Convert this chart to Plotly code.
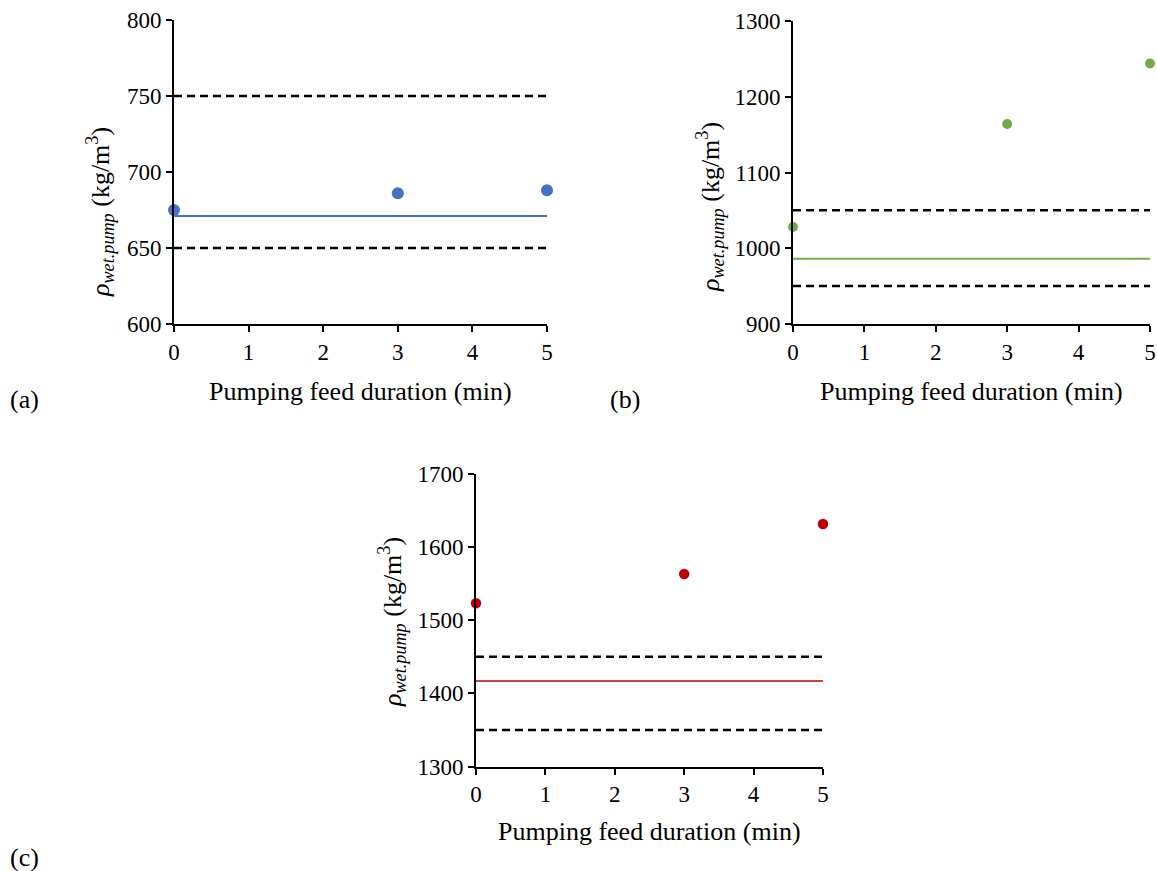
import plotly.graph_objects as go

W, H = 1157, 871

# Measured wet density in the pump at each sampling time
duration = [0, 3, 5]
rho_a = [675, 686, 688]
rho_b = [1028, 1164, 1244]
rho_c = [1523, 1563, 1631]

# Design density (solid line) and tolerance band (dashed lines)
span = [0, 5]
design_a, band_a = 671, [650, 750]
design_b, band_b = 986, [950, 1050]
design_c, band_c = 1417, [1350, 1450]

colors = {"a": "#4472C4", "b": "#70AD47", "c": "#C00000"}

y_ranges = {"a": [600, 800], "b": [900, 1300], "c": [1300, 1700]}
y_dticks = {"a": 50, "b": 100, "c": 100}

# Pixel boxes of the three plot areas: (left, right, top, bottom)
boxes = {
    "a": (174, 547, 20, 324),
    "b": (793, 1150, 21, 324),
    "c": (476, 823, 473.5, 766.7),
}

FONT = "Liberation Serif"

fig = go.Figure()

panels = [
    ("a", rho_a, design_a, band_a, 12, 2.0),
    ("b", rho_b, design_b, band_b, 10, 2.0),
    ("c", rho_c, design_c, band_c, 10.5, 1.6),
]

for i, (key, rho, design, band, msize, lw) in enumerate(panels, start=1):
    xa = "x" if i == 1 else f"x{i}"
    ya = "y" if i == 1 else f"y{i}"
    for lim in band:
        fig.add_trace(go.Scatter(
            x=span, y=[lim, lim], mode="lines", xaxis=xa, yaxis=ya,
            line=dict(color="black", width=2.5, dash="8px,5px"),
            showlegend=False, hoverinfo="skip"))
    fig.add_trace(go.Scatter(
        x=span, y=[design, design], mode="lines", xaxis=xa, yaxis=ya,
        line=dict(color=colors[key], width=lw),
        showlegend=False, hoverinfo="skip"))
    fig.add_trace(go.Scatter(
        x=duration, y=rho, mode="markers", xaxis=xa, yaxis=ya,
        marker=dict(color=colors[key], size=msize, line=dict(width=0)),
        cliponaxis=False, showlegend=False))

layout = dict(
    template="none",
    width=W, height=H,
    margin=dict(l=0, r=0, t=0, b=0, pad=0),
    paper_bgcolor="white", plot_bgcolor="white",
    font=dict(family=FONT, size=23, color="black"),
    showlegend=False,
)

axis_common = dict(
    showgrid=False, zeroline=False, showline=True, linecolor="black",
    linewidth=2, ticks="outside", ticklen=6, tickwidth=2, tickcolor="black",
    tickfont=dict(family=FONT, size=23, color="black"),
    automargin=False, fixedrange=True,
)

for i, key in enumerate(["a", "b", "c"], start=1):
    l, r, t, b = boxes[key]
    xname = "xaxis" if i == 1 else f"xaxis{i}"
    yname = "yaxis" if i == 1 else f"yaxis{i}"
    yanchor_name = "y" if i == 1 else f"y{i}"
    xanchor_name = "x" if i == 1 else f"x{i}"
    layout[xname] = dict(
        axis_common, domain=[l / W, r / W], range=[0, 5], dtick=1,
        tick0=0, anchor=yanchor_name)
    layout[yname] = dict(
        axis_common, domain=[1 - b / H, 1 - t / H], range=y_ranges[key],
        dtick=y_dticks[key], tick0=0, anchor=xanchor_name)

fig.update_layout(**layout)

ytitle = "<i>ρ<sub>wet.pump</sub></i> (kg/m<sup>3</sup>)"
xtitle = "Pumping feed duration (min)"

# Axis titles and panel letters, positioned in pixels
texts = [
    (xtitle, 360.5, 391, 0),
    (xtitle, 971.5, 391, 0),
    (xtitle, 649.5, 831, 0),
    (ytitle, 100, 212, -90),
    (ytitle, 710, 207, -90),
    (ytitle, 392, 622, -90),
    ("(a)", 24, 400, 0),
    ("(b)", 625, 400, 0),
    ("(c)", 24, 857, 0),
]
for txt, px, py, ang in texts:
    fig.add_annotation(
        text=txt, x=px / W, y=1 - py / H, xref="paper", yref="paper",
        showarrow=False, textangle=ang, xanchor="center", yanchor="middle",
        font=dict(family=FONT, size=26, color="black"))

fig.write_html("out.html")
